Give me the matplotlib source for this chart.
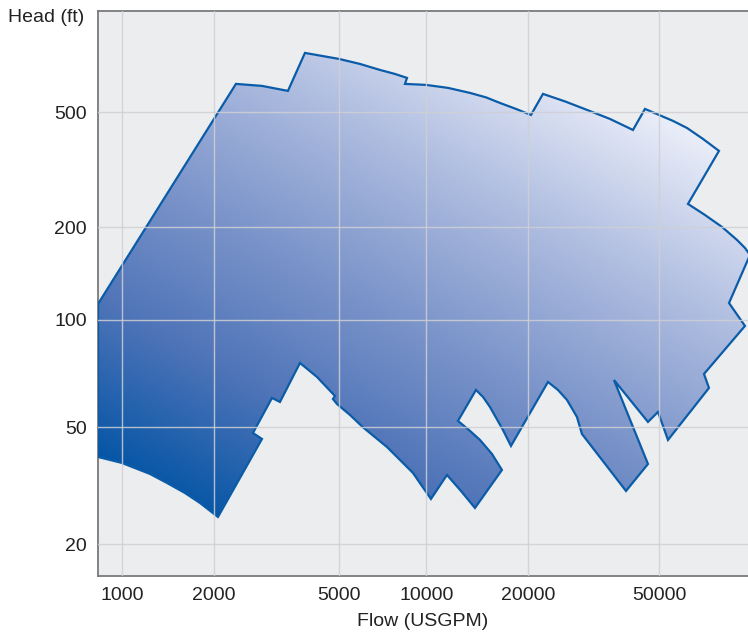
import numpy as np
import matplotlib
matplotlib.use('Agg')
import matplotlib.pyplot as plt
from matplotlib.patches import Polygon
from matplotlib.colors import LinearSegmentedColormap

# Pump coverage outline (flow in USGPM, head in ft)
flow = [835, 2350, 2844, 3440, 3897, 4415, 5000, 5907, 6925, 7800,
        8581, 8446, 9980, 11590, 13458, 15009, 16500, 18396, 20381, 22166,
        25860, 30150, 35410, 41600, 45240, 49900, 55040, 60690, 67880, 75920,
        61120, 68840, 77530, 86100, 91060, 94300, 81440, 91060, 68360, 70780,
        53150, 49550, 46200, 36420, 46200, 39620, 29115, 28113, 26224, 24620,
        22955, 17782, 16840, 15417, 14705, 14018, 12405, 13367, 14409, 15628,
        16726, 13923, 12660, 11512, 10324, 9664, 8999, 8116, 7318, 6049,
        5457, 4927, 4784, 4855, 4256, 3757, 3245, 3060, 2662, 2844,
        2060, 1800, 1607, 1404, 1235, 1000, 835]
head = [112.7, 626.6, 616.7, 592.6, 802, 783, 764.6, 734.6, 700.3, 678.3,
        657.2, 626.6, 621.6, 607, 583.2, 562.8, 538.4, 513.3, 489.3, 578.6,
        545, 509.4, 474, 434.1, 513.3, 489.3, 466.6, 441.1, 404.2, 367.4,
        240.8, 220.5, 200.5, 181.9, 171.3, 162.6, 113.5, 96.2, 70.55, 64.45,
        45.27, 55.2, 51.75, 67.86, 37.51, 30.36, 47.45, 53.45, 59.64, 63.62,
        66.99, 43.2, 48.95, 57.0, 60.82, 63.62, 52.08, 48.95, 45.27, 40.57,
        35.79, 26.58, 30.36, 34.42, 28.52, 31.57, 34.96, 38.71, 42.85, 50.0,
        54.14, 58.12, 60.03, 61.21, 69.2, 75.74, 58.88, 60.42, 47.8, 45.63,
        24.77, 27.64, 29.89, 32.33, 34.69, 37.81, 39.63]

x_ticks = [1000, 2000, 5000, 10000, 20000, 50000]
y_ticks = [20, 50, 100, 200, 500]

# the printed grid is not evenly logarithmic, so the scale follows its knots
x_knots = [122, 214, 339, 426.3, 528.3, 659.3]
y_knots = [-544.3, -427.3, -320, -227.3, -112.3]


def piecewise_log(vals, pos):
    lv = np.log10(vals)
    pos = np.asarray(pos, float)
    s0 = (pos[1] - pos[0]) / (lv[1] - lv[0])
    s1 = (pos[-1] - pos[-2]) / (lv[-1] - lv[-2])

    def fwd(v):
        l = np.log10(np.maximum(np.asarray(v, float), 1e-12))
        out = np.interp(l, lv, pos)
        out = np.where(l < lv[0], pos[0] + (l - lv[0]) * s0, out)
        out = np.where(l > lv[-1], pos[-1] + (l - lv[-1]) * s1, out)
        return out

    def inv(p):
        p = np.asarray(p, float)
        l = np.interp(p, pos, lv)
        l = np.where(p < pos[0], lv[0] + (p - pos[0]) / s0, l)
        l = np.where(p > pos[-1], lv[-1] + (p - pos[-1]) / s1, l)
        return 10 ** l

    return fwd, inv


def main():
    plt.rcParams['font.family'] = ['Liberation Sans', 'DejaVu Sans']

    fig = plt.figure(figsize=(7.48, 6.39), dpi=100)
    ax = fig.add_axes([98 / 748, 63 / 639, 650 / 748, 565 / 639])
    ax.set_facecolor('#ecedef')

    ax.set_xscale('function', functions=piecewise_log(x_ticks, x_knots))
    ax.set_yscale('function', functions=piecewise_log(y_ticks, y_knots))
    ax.set_xlim(835, 93000)
    ax.set_ylim(15.6, 1120)

    # Outline and gradient fill clipped to it
    poly = Polygon(np.column_stack([flow, head]), closed=True,
                   facecolor='none', edgecolor='#0a5ca8', linewidth=1.6,
                   joinstyle='miter', zorder=3)
    ax.add_patch(poly)

    cmap = LinearSegmentedColormap.from_list(
        'pump', [(0.0, '#0656a6'), (0.24, '#4f74b8'), (0.5, '#8098cc'),
                 (0.74, '#afbde0'), (1.0, '#e8ecf8')])
    u, v = np.meshgrid(np.linspace(0, 1, 500), np.linspace(0, 1, 500))
    t = np.clip((0.39 * u + 0.61 * v - 0.13) / 0.70, 0, 1)
    im = ax.imshow(t, cmap=cmap, origin='lower', extent=[0, 1, 0, 1],
                   transform=ax.transAxes, aspect='auto', zorder=2,
                   interpolation='bilinear')
    im.set_clip_path(poly)

    # Grid on top
    for xv in x_ticks:
        ax.axvline(xv, color='#d0d0d4', lw=1.0, alpha=0.85, zorder=4)
    for yv in y_ticks:
        ax.axhline(yv, color='#d0d0d4', lw=1.0, alpha=0.85, zorder=4)

    ax.set_xticks(x_ticks)
    ax.set_xticklabels([str(x) for x in x_ticks])
    ax.set_yticks(y_ticks)
    ax.set_yticklabels([str(y) for y in y_ticks])
    ax.minorticks_off()
    ax.tick_params(length=0, pad=8, labelsize=14, colors='#222222')

    for side in ['left', 'bottom', 'top']:
        ax.spines[side].set_color('#7a7a7a')
        ax.spines[side].set_linewidth(1.3)
    ax.spines['right'].set_visible(False)

    fig.text(8 / 748, 1 - 18 / 639, 'Head (ft)', fontsize=14,
             color='#222222', ha='left', va='center')
    fig.text(423 / 748, 1 - 622 / 639, 'Flow (USGPM)', fontsize=14,
             color='#222222', ha='center', va='center')

    fig.savefig('out.png', dpi=100)
    plt.close()


if __name__ == "__main__":
    main()
